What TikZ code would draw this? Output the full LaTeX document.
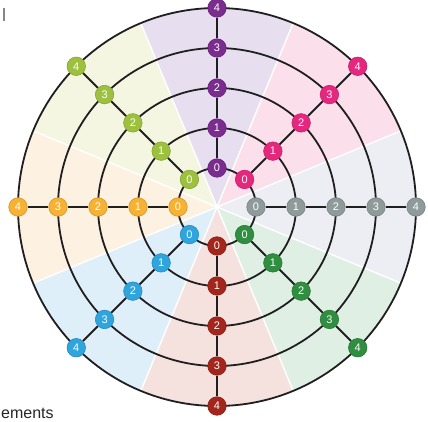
\documentclass[tikz,border=0pt]{standalone}
\usepackage{fontspec}
\setmainfont{Liberation Sans}
\definecolor{cgray}{HTML}{8F9A9B}\definecolor{cgrayL}{HTML}{EDEEF3}
\definecolor{cmag}{HTML}{E5287E}\definecolor{cmagL}{HTML}{FBE0EC}
\definecolor{cpur}{HTML}{7B2C8F}\definecolor{cpurL}{HTML}{E7DFF0}
\definecolor{clime}{HTML}{9DC13E}\definecolor{climeL}{HTML}{F5F6E2}
\definecolor{corg}{HTML}{F7B234}\definecolor{corgL}{HTML}{FDF1E2}
\definecolor{cblue}{HTML}{2FA4DD}\definecolor{cblueL}{HTML}{DFEFFA}
\definecolor{cred}{HTML}{A3251C}\definecolor{credL}{HTML}{F5E2DE}
\definecolor{cgrn}{HTML}{2F8E3F}\definecolor{cgrnL}{HTML}{DFEFE4}
\begin{document}
\begin{tikzpicture}[x=1pt,y=1pt,
  ringline/.style={line width=1.8pt, black!88},
  spokeline/.style={line width=1.8pt, black!88},
  dot/.style={circle, inner sep=0pt, minimum size=18.5pt, line width=0.6pt,
    font=\fontsize{11}{11}\selectfont, text=white},
  divider/.style={white, line width=1.4pt}]
\useasboundingbox (-217,-215) rectangle (211,207);
\fill[white] (-217,-215) rectangle (211,207);
% background wedges
\foreach \a/\l in {0/cgrayL,45/cmagL,90/cpurL,135/climeL,180/corgL,225/cblueL,270/credL,315/cgrnL}{
  \fill[\l] (0,0) -- (\a-22.5:199) arc[start angle=\a-22.5, end angle=\a+22.5, radius=199] -- cycle;
}
\foreach \a in {0,45,...,315}{
  \draw[divider] (0,0) -- (\a+22.5:199);
}
% rings
\foreach \k in {0,...,4}{
  \draw[ringline] (0,0) circle ({39+40*\k});
}
% nodes
\foreach \a/\n/\d in {0/g/cgray,45/m/cmag,90/p/cpur,135/l/clime,180/o/corg,225/b/cblue,270/r/cred,315/e/cgrn}{
  \foreach \k in {0,...,4}{
    \node[dot, fill=\d, draw=\d!85!black] (n\n\k) at (\a:{39+40*\k}) {\k};
  }
}
% spokes
\foreach \n in {g,m,p,l,o,b,r,e}{
  \draw[spokeline] (n\n0) -- (n\n1);
  \draw[spokeline] (n\n1) -- (n\n2);
  \draw[spokeline] (n\n2) -- (n\n3);
  \draw[spokeline] (n\n3) -- (n\n4);
}
% cropped texts
\node[anchor=base west, inner sep=0pt, font=\fontsize{18}{18}\selectfont, text=black!60] (tl) at (-215,185) {l};
\node[anchor=base west, inner sep=0pt, font=\fontsize{16}{16}\selectfont, text=black!85] (bl) at (-216,-211) {ements};
\end{tikzpicture}
\end{document}
